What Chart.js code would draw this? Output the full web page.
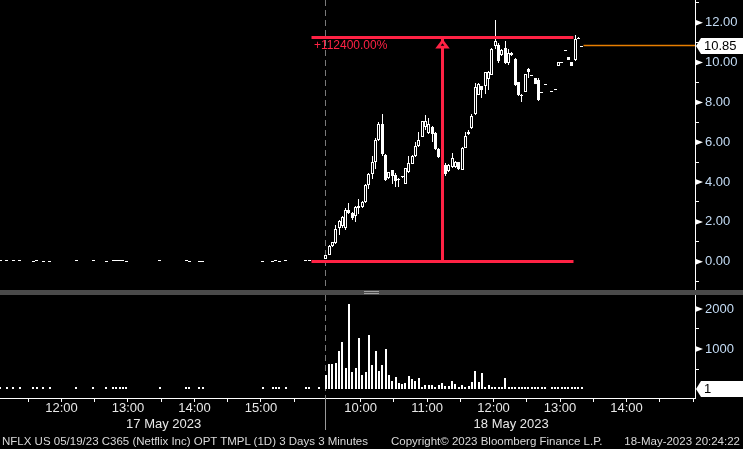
<!DOCTYPE html>
<html lang="en">
<head>
<meta charset="UTF-8">
<title>NFLX US 05/19/23 C365</title>
<script src="https://cdn.jsdelivr.net/npm/chart.js"></script>
<style>
  html, body { margin: 0; padding: 0; background: #000; }
  body { width: 743px; height: 449px; position: relative; overflow: hidden; font-family: "Liberation Sans", Arial, sans-serif; }
  canvas { position: absolute; left: 0; }
  #priceChart { top: 0; }
  #volChart { top: 295px; }
  .sep { position: absolute; left: 0; top: 290px; width: 743px; height: 5px; background: #4a4a4a; }
  .grip { position: absolute; left: 364px; width: 15px; height: 1px; background: #a0a0a0; }
  .foot { position: absolute; top: 434px; font-size: 11.5px; line-height: 14px; color: #d9d9d9; white-space: nowrap; }
</style>
</head>
<body>
<canvas id="priceChart" width="743" height="290"></canvas>
<div class="sep"></div>
<div class="grip" style="top:291px"></div>
<div class="grip" style="top:293px"></div>
<canvas id="volChart" width="743" height="154"></canvas>
<div class="foot" style="left:2px">NFLX US 05/19/23 C365 (Netflix Inc) OPT TMPL (1D) 3 Days 3 Minutes</div>
<div class="foot" style="left:391px">Copyright© 2023 Bloomberg Finance L.P.</div>
<div class="foot" style="right:3px">18-May-2023 20:24:22</div>

<script>
// ---- data ----
// 17 May 2023: only a few prints, 3 minute bars
const times17  = ['11:06','11:12','11:18','11:24','11:36','11:39','11:45','11:51','12:15','12:30',
                  '12:42','12:48','12:51','12:54','12:57','13:00','13:30','13:54','13:57','14:06',
                  '14:09','15:03','15:12','15:15','15:18','15:24','15:42','15:45','15:54'];
const open17   = [0.07,0.07,0.07,0.07,0.03,0.07,0.03,0.03,0.09,0.07,0.03,0.07,0.07,0.07,0.07,0.03,0.07,0.07,0.03,0.03,0.03,0.03,0.03,0.07,0.03,0.07,0.07,0.07,0.01];
const high17   = [0.07,0.07,0.07,0.07,0.03,0.07,0.03,0.03,0.10,0.07,0.03,0.07,0.07,0.07,0.07,0.03,0.07,0.07,0.03,0.03,0.03,0.03,0.03,0.07,0.03,0.07,0.07,0.07,0.01];
const low17    = [0.07,0.07,0.07,0.07,0.03,0.07,0.03,0.03,0.03,0.07,0.03,0.07,0.07,0.07,0.07,0.03,0.07,0.07,0.03,0.03,0.03,0.03,0.03,0.07,0.03,0.07,0.07,0.07,0.01];
const close17  = [0.07,0.07,0.07,0.07,0.03,0.07,0.03,0.03,0.04,0.07,0.03,0.07,0.07,0.07,0.07,0.03,0.07,0.07,0.03,0.03,0.03,0.03,0.03,0.07,0.03,0.07,0.07,0.07,0.01];
const volume17 = [10,10,10,10,10,10,10,10,10,10,10,10,10,10,10,10,10,10,10,10,10,10,10,10,10,10,10,10,10];

// 18 May 2023: one entry per 3 minute bar from 09:30 (null = no trade)
const open18  = [0.15,0.34,0.78,0.94,1.67,1.78,1.67,2.60,2.45,2.28, 2.68,2.75,2.98,3.85,4.42,5.03,6.10,6.90,5.38,4.19,
                 4.59,4.36,4.10,4.26,3.92,4.49,4.92,5.29,5.79,6.27, 6.77,6.47,6.77,6.47,5.66,5.03,4.86,4.54,4.76,4.76,
                 4.99,4.62,5.73,6.40,6.70,7.40,8.39,8.84,8.81,9.18, 9.38,10.82,10.90,10.39,10.72,9.98,10.37,10.20,9.00,8.35,
                 8.53,9.70,9.35,9.20,9.10,8.53,8.90,null,8.58,8.69, 9.82,10.04,10.65,10.27,10.04,10.14,11.17,10.85];
const high18  = [0.34,0.85,1.00,1.84,2.10,2.30,2.71,2.95,2.50,2.80, 3.15,3.05,3.90,4.45,5.33,6.20,7.00,7.40,5.40,4.50,
                 4.62,4.45,4.19,4.27,4.70,5.29,5.35,6.00,6.50,7.05, 7.37,7.20,6.80,6.50,5.70,5.05,4.97,4.90,5.46,5.05,
                 5.00,5.75,6.53,6.60,7.40,8.98,8.98,8.84,9.55,9.60, 10.75,12.16,11.00,10.69,11.09,10.70,10.55,10.22,9.00,8.43,
                 9.40,9.72,9.36,9.22,9.20,8.53,8.90,null,8.58,8.69, 10.04,10.04,10.65,10.27,10.04,11.37,11.30,10.85];
const low18   = [0.14,0.33,0.75,0.90,1.34,1.70,1.60,2.40,2.10,2.00, 2.40,2.70,2.95,3.65,4.15,4.65,6.05,5.30,4.05,4.15,
                 3.90,3.75,3.75,4.20,3.90,4.45,4.90,5.25,5.75,6.25, 6.60,6.40,6.00,5.60,5.20,4.50,4.29,4.50,4.70,4.70,
                 4.60,4.60,5.70,6.37,6.65,7.35,8.35,8.24,8.40,8.64, 9.35,10.70,10.00,10.35,9.95,9.90,10.35,8.80,8.30,8.04,
                 8.50,9.20,9.34,8.90,8.06,8.53,8.90,null,8.58,8.69, 9.82,10.04,10.65,10.15,9.82,10.10,11.17,10.85];
const close18 = [0.33,0.81,0.97,1.64,2.05,2.25,2.61,2.45,2.18,2.75, 2.81,3.02,3.85,4.42,5.03,6.10,6.90,5.40,4.09,4.49,
                 4.32,4.06,4.09,4.25,4.69,4.96,5.33,5.83,6.13,7.04, 7.04,6.90,6.43,5.66,5.26,4.54,4.42,4.86,5.23,5.03,
                 4.66,5.73,6.30,6.50,7.34,8.78,8.90,8.61,9.51,9.55, 10.69,11.06,10.07,10.62,9.98,10.49,10.50,8.86,8.36,8.33,
                 9.40,9.53,9.35,8.90,8.10,8.53,8.90,null,8.58,8.69, 10.04,10.04,10.65,10.15,9.82,11.17,11.25,10.85];
const volume18 = [350,630,630,660,960,1170,530,2130,430,530, 1270,350,430,1340,610,960,460,610,990,350,
                  200,300,150,130,150,330,250,200,280,20, 100,100,100,50,100,150,80,80,200,130,
                  20,100,50,80,180,460,180,400,20,100, 50,20,20,20,280,20,10,20,10,50,
                  50,20,10,10,10,10,10,null,10,10, 10,10,10,50,10,10,20,10];

const lastPrice = 10.85;
const lastVolume = 1;

// measure tool drawn on the chart
const measureLow = 0.01, measureHigh = 11.25;
const measureFrom = [0, '15:46'], measureAt = [1, '11:14'], measureTo = [1, '13:12'];

const priceTicks = [-1,0,1,2,3,4,5,6,7,8,9,10,11,12,13];
const priceLabelled = [0,2,4,6,8,10,12];
const volumeTicks = [500,1000,1500,2000];
const volumeLabelled = [1000,2000];
const tickTimes17 = ['11:30','12:00','12:30','13:00','13:30','14:00','14:30','15:00','15:30'];
const tickTimes18 = ['10:00','10:30','11:00','11:30','12:00','12:30','13:00','13:30','14:00','14:30','15:00'];
const dayNames = ['17 May 2023', '18 May 2023'];

// ---- time axis: 3 minute slots, sessions 09:30-16:00 put back to back ----
const SLOTS_PER_DAY = 130;
function slotOf(day, hhmm) {
  const [h, m] = hhmm.split(':').map(Number);
  return day * SLOTS_PER_DAY + (h * 60 + m - 570) / 3;
}
const barShift = -0.5;
const viewFrom = 31.5, viewTo = 240.6;
const sessionBreak = SLOTS_PER_DAY - 0.7;

const RED = '#ff2244', ORANGE = '#e67e00', AXIS_TXT = '#c4dcf5', FONT = '"Liberation Sans", Arial, sans-serif';

const candles = [];
times17.forEach((t, i) => candles.push({ x: slotOf(0, t) + barShift, o: open17[i], h: high17[i], l: low17[i], c: close17[i], v: volume17[i] }));
open18.forEach((o, k) => {
  if (o === null) return;
  candles.push({ x: slotOf(1, '09:30') + k + barShift, o: o, h: high18[k], l: low18[k], c: close18[k], v: volume18[k] });
});

const xTicks = [];
tickTimes17.forEach(t => xTicks.push({ value: slotOf(0, t), label: t.endsWith(':00') ? t : '' }));
tickTimes18.forEach(t => {
  const s = slotOf(1, t);
  xTicks.push({ value: s, label: t.endsWith(':00') && s < viewTo - 3 ? t : '' });
});

function yAxis(min, max, ticks, labelled, fmt) {
  return {
    type: 'linear', position: 'right', min: min, max: max,
    afterBuildTicks: s => { s.ticks = ticks.map(v => ({ value: v })); },
    afterFit: s => { s.width = 48; s.paddingTop = 0; s.paddingBottom = 0; },
    grid: { drawOnChartArea: false, drawTicks: true, tickLength: 4, color: '#fff', tickColor: '#fff' },
    border: { display: true, color: '#fff', width: 1 },
    ticks: { autoSkip: false, padding: 6, color: AXIS_TXT, font: { family: FONT, size: 13, lineHeight: 1 },
             callback: v => labelled.includes(v) ? fmt(v) : '' }
  };
}

// keep bars and thin lines on whole pixels so they stay crisp
function snapMarks(center) {
  return {
    id: 'snapMarks',
    beforeDatasetsDraw(chart) {
      chart.getSortedVisibleDatasetMetas().forEach(meta => {
        if (meta.type === 'line') {
          meta.data.forEach(pt => { pt.x = Math.floor(pt.x) + 0.5; pt.y = Math.floor(pt.y) + 0.5; });
          return;
        }
        meta.data.forEach(el => {
          el.x = center ? Math.floor(el.x) + 0.5 : Math.round(el.x);
          const y = Math.round(el.y), b = Math.round(el.base);
          const gap = Math.abs(el.y - el.base);
          el.y = y;
          el.base = (y === b && gap >= 0.5) ? y + 1 : b;
        });
      });
    }
  };
}

function drawFlags(chart, values) {
  const { ctx, chartArea, scales: { y } } = chart;
  ctx.save();
  ctx.fillStyle = '#fff';
  values.forEach(v => {
    const py = y.getPixelForValue(v);
    ctx.beginPath();
    ctx.moveTo(chartArea.right + 1, py - 2.7);
    ctx.lineTo(chartArea.right + 1, py + 2.7);
    ctx.lineTo(chartArea.right + 8, py);
    ctx.closePath();
    ctx.fill();
  });
  ctx.restore();
}

function drawTag(chart, value, text) {
  const { ctx, chartArea, scales: { y } } = chart;
  const py = Math.round(y.getPixelForValue(value)), r = chartArea.right;
  ctx.save();
  ctx.fillStyle = '#fff';
  ctx.beginPath();
  ctx.moveTo(r + 1, py);
  ctx.lineTo(r + 6, py - 8);
  ctx.lineTo(chart.width, py - 8);
  ctx.lineTo(chart.width, py + 8);
  ctx.lineTo(r + 6, py + 8);
  ctx.closePath();
  ctx.fill();
  ctx.fillStyle = '#000';
  ctx.font = '13px ' + FONT;
  ctx.textBaseline = 'middle';
  ctx.fillText(text, r + 9, py + 0.5);
  ctx.restore();
}

function drawBreak(chart, bottom) {
  const { ctx, scales: { x } } = chart;
  const px = Math.round(x.getPixelForValue(sessionBreak)) + 0.5;
  ctx.save();
  ctx.strokeStyle = '#7a7a7a';
  ctx.lineWidth = 1;
  ctx.setLineDash([6, 4]);
  ctx.beginPath();
  ctx.moveTo(px, 0);
  ctx.lineTo(px, bottom);
  ctx.stroke();
  ctx.restore();
}

// ---- price panel ----
const pricePlugin = {
  id: 'pricePlugin',
  beforeDatasetsDraw(chart) { drawBreak(chart, chart.chartArea.bottom); },
  afterDatasetsDraw(chart) {
    const { ctx, scales: { x, y } } = chart;
    const top = Math.floor(y.getPixelForValue(measureHigh)) + 0.5;
    const mx = Math.floor(x.getPixelForValue(slotOf(...measureAt))) + 0.5;
    ctx.save();
    ctx.beginPath();
    ctx.moveTo(mx, top + 3.6);
    ctx.lineTo(mx + 4.6, top + 9.6);
    ctx.lineTo(mx - 4.6, top + 9.6);
    ctx.closePath();
    ctx.fillStyle = '#000';
    ctx.fill();
    ctx.lineWidth = 2.6;
    ctx.strokeStyle = RED;
    ctx.stroke();
    const pct = (measureHigh - measureLow) / measureLow * 100;
    ctx.fillStyle = RED;
    ctx.font = '12px ' + FONT;
    ctx.textBaseline = 'middle';
    ctx.fillText('+' + pct.toFixed(2) + '%', x.getPixelForValue(slotOf(...measureFrom)) + 2, top + 8.5);
    ctx.restore();
  },
  afterDraw(chart) {
    drawFlags(chart, priceLabelled);
    drawTag(chart, lastPrice, lastPrice.toFixed(2));
  }
};

const last = candles[candles.length - 1];
const redLine = pts => ({ type: 'line', data: pts, borderColor: RED, borderWidth: 3, borderCapStyle: 'butt', pointRadius: 0, order: 0 });

new Chart(document.getElementById('priceChart'), {
  type: 'bar',
  data: {
    datasets: [
      redLine([{ x: slotOf(...measureFrom), y: measureHigh }, { x: slotOf(...measureTo), y: measureHigh }]),
      redLine([{ x: slotOf(...measureFrom), y: measureLow }, { x: slotOf(...measureTo), y: measureLow }]),
      redLine([{ x: slotOf(...measureAt), y: measureLow }, { x: slotOf(...measureAt), y: measureHigh }]),
      {
        label: 'body', data: candles.map(c => ({ x: c.x, y: [c.o, c.c] })),
        backgroundColor: candles.map(c => c.c < c.o ? '#fff' : '#000'),
        borderColor: '#fff', borderWidth: 1, borderSkipped: false, inflateAmount: 0,
        barThickness: 3, minBarLength: 1, grouped: false, order: 1
      },
      {
        label: 'wick', data: candles.map(c => ({ x: c.x, y: [c.l, c.h] })),
        backgroundColor: '#fff', borderWidth: 0, inflateAmount: 0,
        barThickness: 1, grouped: false, order: 2
      },
      {
        type: 'line', label: 'last', data: [{ x: last.x + 0.5, y: lastPrice }, { x: viewTo, y: lastPrice }],
        borderColor: ORANGE, borderWidth: 1.4, pointRadius: 0, order: 3
      }
    ]
  },
  options: {
    responsive: false, animation: false, devicePixelRatio: 1,
    layout: { padding: 0 },
    plugins: { legend: { display: false }, tooltip: { enabled: false } },
    scales: {
      x: { type: 'linear', display: false, min: viewFrom, max: viewTo, offset: false },
      y: yAxis(-1.42, 13.14, priceTicks, priceLabelled, v => v.toFixed(2))
    }
  },
  plugins: [snapMarks(true), pricePlugin]
});

// ---- volume panel + time axis ----
const volPlugin = {
  id: 'volPlugin',
  beforeDatasetsDraw(chart) { drawBreak(chart, chart.chartArea.bottom); },
  afterDraw(chart) {
    const { ctx, chartArea, scales: { x } } = chart;
    drawFlags(chart, volumeLabelled);
    drawTag(chart, lastVolume, String(lastVolume));
    const px = Math.round(x.getPixelForValue(sessionBreak)) + 0.5;
    ctx.save();
    ctx.strokeStyle = '#9a9a9a';
    ctx.lineWidth = 1;
    ctx.beginPath();
    ctx.moveTo(px, chartArea.bottom);
    ctx.lineTo(px, chartArea.bottom + 32);
    ctx.stroke();
    ctx.fillStyle = '#e8e8e8';
    ctx.font = '13px ' + FONT;
    ctx.textAlign = 'center';
    ctx.textBaseline = 'middle';
    const mids = [(viewFrom + SLOTS_PER_DAY) / 2, (SLOTS_PER_DAY + viewTo) / 2];
    mids.forEach((m, i) => ctx.fillText(dayNames[i], x.getPixelForValue(m), chartArea.bottom + 26));
    ctx.restore();
  }
};

const xLabels = new Map(xTicks.map(t => [t.value, t.label]));

new Chart(document.getElementById('volChart'), {
  type: 'bar',
  data: {
    datasets: [{
      label: 'Volume', data: candles.map(c => ({ x: c.x, y: c.v })),
      backgroundColor: '#fff', borderWidth: 0, inflateAmount: 0,
      barThickness: 2, minBarLength: 2, grouped: false
    }]
  },
  options: {
    responsive: false, animation: false, devicePixelRatio: 1,
    layout: { padding: 0 },
    plugins: { legend: { display: false }, tooltip: { enabled: false } },
    scales: {
      x: {
        type: 'linear', min: viewFrom, max: viewTo, offset: false,
        afterBuildTicks: s => { s.ticks = xTicks.map(t => ({ value: t.value })); },
        afterFit: s => { s.height = 51; s.paddingLeft = 0; s.paddingRight = 0; },
        grid: { drawOnChartArea: false, drawTicks: true, tickLength: 4, color: '#fff', tickColor: '#fff', offset: false },
        border: { display: true, color: '#fff', width: 1 },
        ticks: { autoSkip: false, maxRotation: 0, minRotation: 0, padding: 0, color: '#e8e8e8',
                 font: { family: FONT, size: 13, lineHeight: 1 }, callback: v => xLabels.get(v) || '' }
      },
      y: yAxis(-225, 2350, volumeTicks, volumeLabelled, v => String(v))
    }
  },
  plugins: [snapMarks(false), volPlugin]
});
</script>
</body>
</html>
